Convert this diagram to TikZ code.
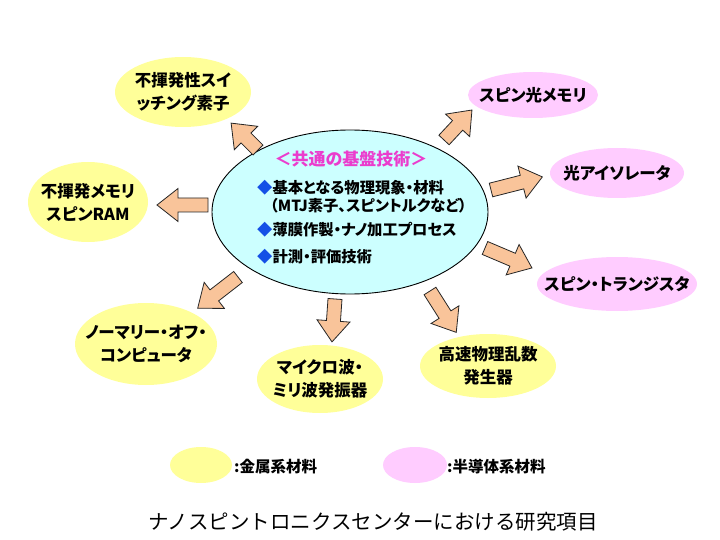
\documentclass[tikz,border=0pt]{standalone}
\usepackage{fontspec}
\usetikzlibrary{shapes.geometric}
\newfontfamily\jp{Noto Sans CJK JP}[RawFeature=+palt]
\newfontfamily\jpt{Noto Sans CJK JP}
\definecolor{yel}{HTML}{FFFF99}
\definecolor{pnk}{HTML}{FFCCFF}
\definecolor{cyn}{HTML}{CCFFFF}
\definecolor{org}{HTML}{F9C49A}
\definecolor{mag}{RGB}{235,60,205}
\definecolor{dblue}{RGB}{20,80,230}
\tikzset{
  yl/.style={ellipse, fill=yel, inner sep=0pt},
  pk/.style={ellipse, fill=pnk, inner sep=0pt},
  lbl/.style={align=center, inner sep=0pt, font=\jp\bfseries\fontsize{16.5}{23}\selectfont},
  ctxt/.style={anchor=west, inner sep=0pt, font=\jp\bfseries\fontsize{15.3}{18}\selectfont},
  lgd/.style={anchor=west, inner sep=0pt, font=\jp\bfseries\fontsize{15.5}{18}\selectfont},
  arr/.style={fill=org, draw=black!85, line width=0.8pt, line join=miter},
}
\newcommand\barrow[3]{%
  \draw[arr, shift={(#1)}, rotate=#2]
    (0,7) -- ({#3-21},7) -- ({#3-21},16.5) -- (#3,0) -- ({#3-21},-16.5) -- ({#3-21},-7) -- (0,-7) -- cycle;}
\begin{document}
\begin{tikzpicture}[x=1pt, y=-1pt]
\useasboundingbox (0,0) rectangle (720,540);
\fill[white] (0,0) rectangle (720,540);

% outer ellipses
\node[yl, minimum width=136pt, minimum height=70pt] (sw) at (183,92) {};
\node[lbl] (swt) at (sw.center) {不揮発性スイ\\ッチング素子};
\node[yl, minimum width=120pt, minimum height=80pt] (ram) at (88,202) {};
\node[lbl] (ramt) at (ram.center) {不揮発メモリ\\スピンRAM};
\node[pk, minimum width=130pt, minimum height=46pt] (om) at (533,95) {};
\node[lbl] (omt) at (om.center) {スピン光メモリ};
\node[pk, minimum width=134pt, minimum height=50pt] (iso) at (617,173) {};
\node[lbl] (isot) at (iso.center) {光アイソレータ};
\node[pk, minimum width=160pt, minimum height=54pt] (tr) at (617,284) {};
\node[lbl] (trt) at (tr.center) {スピン・トランジスタ};
\node[yl, minimum width=142pt, minimum height=82pt] (noc) at (146,344) {};
\node[lbl] (noct) at (noc.center) {ノーマリー・オフ・\\コンピュータ};
\node[yl, minimum width=126pt, minimum height=68pt] (mw) at (320,379) {};
\node[lbl] (mwt) at (mw.center) {マイクロ波・\\ミリ波発振器};
\node[yl, minimum width=136pt, minimum height=64pt] (rng) at (488,366) {};
\node[lbl] (rngt) at (rng.center) {高速物理乱数\\発生器};

% center ellipse
\node[ellipse, fill=cyn, draw=black, line width=0.9pt, minimum width=276pt, minimum height=164pt, inner sep=0pt] (core) at (350,212) {};
\node[inner sep=0pt, text=mag, font=\jp\bfseries\fontsize{17}{18}\selectfont] (head) at (351,159) {＜共通の基盤技術＞};
\node[ctxt] (b1) at (257,188) {\textcolor{dblue}{◆}基本となる物理現象・材料};
\node[ctxt] (b1b) at (270,206) {（MTJ素子、スピントルクなど）};
\node[ctxt] (b2) at (257,230) {\textcolor{dblue}{◆}薄膜作製・ナノ加工プロセス};
\node[ctxt] (b3) at (257,257) {\textcolor{dblue}{◆}計測・評価技術};

% block arrows
\barrow{258,150}{135}{38}
\barrow{208,205}{180}{51}
\barrow{444,140}{47}{41}
\barrow{491,190}{14.3}{53}
\barrow{485,248}{-23}{51}
\barrow{238,277}{217.8}{51}
\barrow{335,299}{-94}{43}
\barrow{430,291}{-57.6}{49}

% legend
\node[yl, minimum width=62pt, minimum height=36pt] (lgy) at (201,465) {};
\node[lgd] (lgyt) at (234,467) {:金属系材料};
\node[pk, minimum width=64pt, minimum height=36pt] (lgp) at (415,465) {};
\node[lgd] (lgpt) at (447,467) {:半導体系材料};

% title
\node[inner sep=0pt, font=\jpt\fontsize{20.5}{24}\selectfont] (title) at (373,522) {ナノスピントロニクスセンターにおける研究項目};
\end{tikzpicture}
\end{document}
